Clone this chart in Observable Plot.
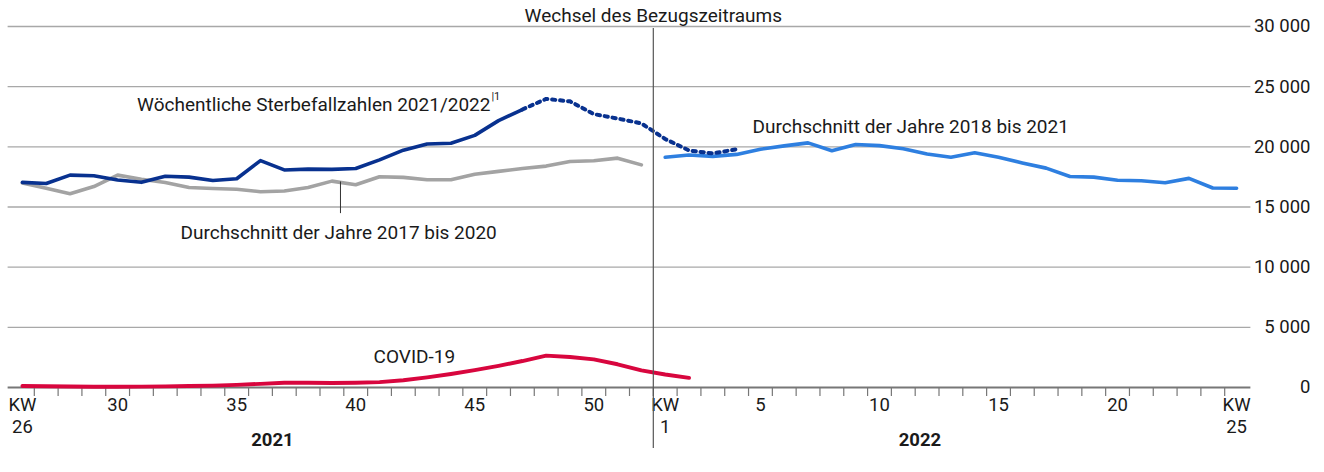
<!DOCTYPE html>
<html><head><meta charset="utf-8">
<script src="https://cdn.jsdelivr.net/npm/d3@7"></script>
<script src="https://cdn.jsdelivr.net/npm/@observablehq/plot@0.6"></script>
<style>
html,body{margin:0;padding:0;background:#fff;}
#chart{width:1324px;height:472px;}
</style>
</head><body><div id="chart"></div>
<script>
// Week index 0 = KW26 2021 ... 26 = KW52 2021, 27 = KW1 2022 ... 51 = KW25 2022
const weekLabels = ["26","27","28","29","30","31","32","33","34","35","36","37","38","39","40","41","42","43","44","45","46","47","48","49","50","51","52",
  "1","2","3","4","5","6","7","8","9","10","11","12","13","14","15","16","17","18","19","20","21","22","23","24","25"];

// Weekly deaths 2021/2022 (index 0..30); solid up to 21, preliminary (dotted) 21..30
const deaths = [17050,16950,17650,17600,17250,17050,17550,17480,17200,17350,18850,18080,18150,18130,18200,18920,19720,20230,20300,20950,22180,23100,
  23980,23780,22720,22350,21950,20650,19700,19450,19800];
const solidEnd = 21;
// Average 2017-2020 (index 0..26)
const avg1720 = [17000,16550,16100,16700,17650,17300,17030,16620,16540,16480,16270,16330,16620,17150,16850,17520,17460,17260,17260,17720,17960,18200,18400,18780,18840,19060,18500];
// Average 2018-2021 (index 27..51)
const avg1821 = [19130,19320,19210,19370,19800,20080,20330,19680,20200,20100,19840,19400,19140,19500,19130,18660,18230,17540,17480,17220,17180,17020,17380,16580,16560];
const avg1821Start = 27;
// COVID-19 deaths (index 0..28)
const covid = [120,100,80,60,60,70,90,120,160,220,300,400,390,380,400,450,600,840,1120,1440,1800,2200,2650,2530,2340,1930,1420,1080,800];

const xTickIdx = [0,4,9,14,19,24,27,31,36,41,46,51];
const xTickText = ["KW\n26","30","35","40","45","50","KW\n1","5","10","15","20","KW\n25"];
const yTicks = [0,5000,10000,15000,20000,25000,30000];
const years = [{x:10.5, t:"2021"},{x:37.7, t:"2022"}];

const fmt = d => d3.format(",")(d).replace(/,/g, " ");
const labelMap = new Map(xTickIdx.map((d,i)=>[d, xTickText[i]]));
const boundaries = d3.range(0, 51).map(i => i + 0.5);

const deathsSolid = deaths.slice(0, solidEnd+1).map((v,i)=>({i, v}));
const deathsDot = deaths.slice(solidEnd).map((v,k)=>({i: solidEnd+k, v}));
const a1720 = avg1720.map((v,i)=>({i, v}));
const a1821 = avg1821.map((v,k)=>({i: avg1821Start+k, v}));
const cov = covid.map((v,i)=>({i, v}));

const cDark = "#08318f", cLight = "#2e7fe0", cGray = "#a3a3a3", cRed = "#d8063e";
const fs = 18.5;
const fa = 19;

const chart = Plot.plot({
  width: 1324, height: 472,
  marginLeft: 10, marginRight: 76, marginTop: 26, marginBottom: 85,
  style: {fontFamily: "Roboto, 'Open Sans', sans-serif", fontSize: fs + "px", color: "#1a1a1a", background: "#fff"},
  x: {type: "linear", domain: [-0.5, 51.5], axis: null},
  y: {domain: [0, 30000], axis: null},
  marks: [
    Plot.ruleY(yTicks.filter(d=>d>0), {x1: -0.6, x2: 51.6, stroke: "#a8a8a8", strokeWidth: 1.3}),
    Plot.ruleY([0], {x1: -0.6, x2: 51.6, stroke: "#777", strokeWidth: 2}),
    Plot.axisX({ticks: boundaries, tickFormat: () => "", tickSize: 9, stroke: "#777", strokeWidth: 1.2, label: null}),
    Plot.axisX({ticks: xTickIdx, tickFormat: d => labelMap.get(d), tickSize: 0, tickPadding: 8, lineHeight: 1.2, fontSize: fs, fill: "#1a1a1a", label: null}),
    Plot.axisY({anchor: "right", ticks: yTicks, tickSize: 0, tickPadding: 0, textAnchor: "end", dx: 62, tickFormat: fmt, fontSize: fs, fill: "#1a1a1a", label: null}),
    Plot.text(years, {x: "x", text: "t", frameAnchor: "bottom", lineAnchor: "middle", dy: 53, fontWeight: "bold", fontSize: fs, fill: "#1a1a1a"}),
    Plot.line(a1720, {x: "i", y: "v", stroke: cGray, strokeWidth: 3.6}),
    Plot.line(a1821, {x: "i", y: "v", stroke: cLight, strokeWidth: 3.6}),
    Plot.line(cov, {x: "i", y: "v", stroke: cRed, strokeWidth: 3.9}),
    Plot.line(deathsSolid, {x: "i", y: "v", stroke: cDark, strokeWidth: 3.6}),
    Plot.line(deathsDot, {x: "i", y: "v", stroke: cDark, strokeWidth: 4, strokeDasharray: "3.3,4.7"}),
    Plot.ruleX([26.5], {stroke: "#555", strokeWidth: 1.2, insetTop: 2, insetBottom: -61}),
    Plot.ruleX([13.36], {y1: 17080, y2: 14450, stroke: "#333", strokeWidth: 1}),
    Plot.text(["Wechsel des Bezugszeitraums"], {x: 26.5, frameAnchor: "top", lineAnchor: "middle", dy: -11, fontSize: fa, fill: "#1a1a1a"}),
    Plot.text(["Wöchentliche Sterbefallzahlen 2021/2022"], {x: 19.66, y: 23520, textAnchor: "end", fontSize: fa, fill: "#1a1a1a"}),
    Plot.text(["|1"], {x: 19.7, y: 24200, textAnchor: "start", fontSize: 11, fill: "#222"}),
    Plot.text(["Durchschnitt der Jahre 2018 bis 2021"], {x: 30.67, y: 21690, textAnchor: "start", fontSize: fa, fill: "#1a1a1a"}),
    Plot.text(["Durchschnitt der Jahre 2017 bis 2020"], {x: 6.64, y: 12880, textAnchor: "start", fontSize: fa, fill: "#1a1a1a"}),
    Plot.text(["COVID-19"], {x: 14.75, y: 2580, textAnchor: "start", fontSize: fa, fill: "#1a1a1a"})
  ]
});
document.getElementById("chart").appendChild(chart);
</script>
</body></html>
